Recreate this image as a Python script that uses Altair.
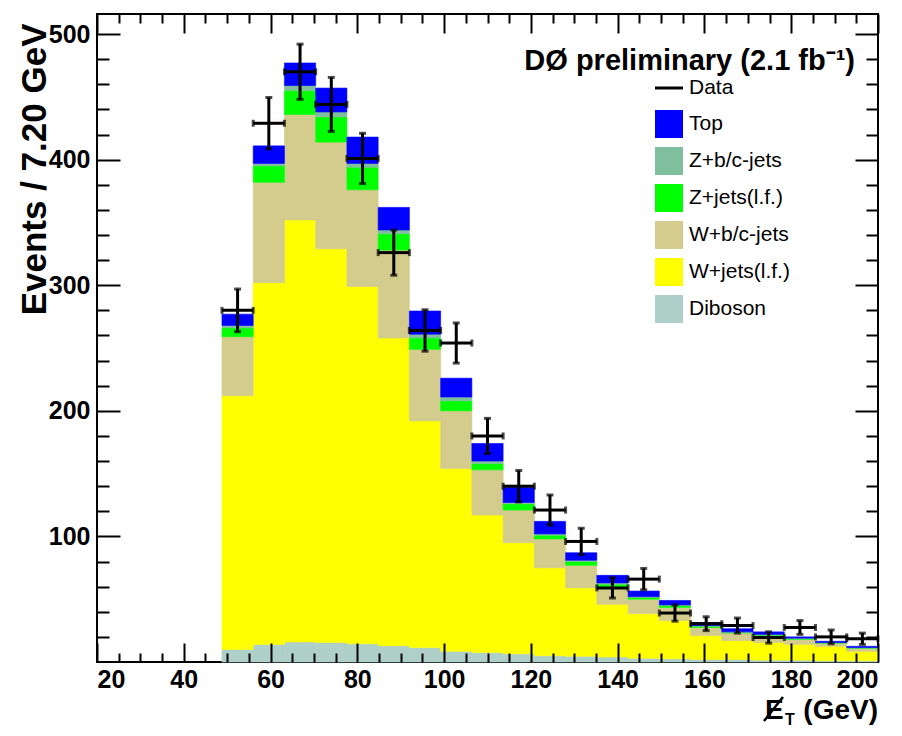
import altair as alt
import pandas as pd

# ---- data ----
bin_lo = [48.8, 56.0, 63.2, 70.4, 77.6, 84.8, 92.0, 99.2, 106.4, 113.6, 120.8,
          128.0, 135.2, 142.4, 149.6, 156.8, 164.0, 171.2, 178.4, 185.6, 192.8]
bin_hi = [56.0, 63.2, 70.4, 77.6, 84.8, 92.0, 99.2, 106.4, 113.6, 120.8, 128.0,
          135.2, 142.4, 149.6, 156.8, 164.0, 171.2, 178.4, 185.6, 192.8, 200.0]

diboson = [10, 14, 16, 15.5, 14.5, 13, 11.5, 8.5, 7.5, 6.5, 5, 4.5, 4, 3, 2.5, 2, 2, 1.5, 1.5, 1, 1]
w_lf = [202, 288, 336, 313.5, 284.5, 245, 180.5, 145.5, 109.5, 88.5, 70, 54.5, 42, 35.5, 30.5, 19, 15, 14, 12.5, 11.5, 7.5]
w_bc = [47, 80, 84, 85, 77, 70, 57, 46, 36, 26, 23, 18, 14, 11.5, 10.5, 6.5, 6, 5.5, 4, 2.5, 2.5]
z_lf = [7, 13, 19, 20, 18, 13, 9, 8, 5, 5, 3, 3, 2, 1.5, 1.5, 1, 0.5, 0.5, 0.5, 0.2, 0.3]
z_bc = [2, 2, 4, 4, 3, 3, 3, 3, 2, 1, 1, 1, 1, 0.5, 0.5, 0.5, 0.5, 0.5, 0.5, 0.3, 0.2]
top = [9, 14, 18, 19, 21, 18, 18.5, 15, 14, 12, 10, 6, 6, 4.5, 3.5, 2.5, 2.5, 2, 1, 1, 1]

data_counts = [280, 429, 470, 444, 401, 326, 264, 254, 180, 140, 121, 96, 59, 66, 39, 30.5, 29, 19.5, 27.5, 20, 18.5]
data_err = [17, 20.5, 22, 21.5, 20, 18, 16.5, 16, 14, 12.5, 12, 10.5, 8, 8.5, 6.5, 5.5, 6, 4.5, 5.5, 5.5, 4.5]

legend_names = ["Top", "Z+b/c-jets", "Z+jets(l.f.)", "W+b/c-jets", "W+jets(l.f.)", "Diboson"]
legend_colors = ["#0000ff", "#80bf9d", "#00ff00", "#d3cc8c", "#ffff00", "#afd0c9"]

x_ticks = list(range(20, 201, 5))
y_ticks = list(range(20, 501, 20))

# ---- tables ----
stack = [("Diboson", diboson), ("W+jets(l.f.)", w_lf), ("W+b/c-jets", w_bc),
         ("Z+jets(l.f.)", z_lf), ("Z+b/c-jets", z_bc), ("Top", top)]
rows = []
for k, (name, vals) in enumerate(stack):
    for lo, hi, v in zip(bin_lo, bin_hi, vals):
        rows.append(dict(lo=lo, hi=hi, value=v, comp=name, ord=k))
mc = pd.DataFrame(rows)

dd = pd.DataFrame(dict(lo=bin_lo, hi=bin_hi, n=data_counts, err=data_err))
dd["mid"] = (dd["lo"] + dd["hi"]) / 2
dd["elo"] = dd["n"] - dd["err"]
dd["ehi"] = dd["n"] + dd["err"]

W, H = 781, 648
FONT = "Liberation Sans"
xscale = alt.Scale(domain=[20, 200], nice=False, zero=False)
yscale = alt.Scale(domain=[0, 516], nice=False, zero=True)
cscale = alt.Scale(domain=legend_names, range=legend_colors)

x_major = {"condition": {"test": "datum.value % 20 === 0", "value": 19}, "value": 9}
y_major = {"condition": {"test": "datum.value % 100 === 0", "value": 23}, "value": 12}
tickcommon = dict(domain=False, grid=False, labels=False, title="", tickColor="black",
                  tickWidth=2, zindex=2)

# axes carrying the labels (no ticks)
x_labels = alt.Axis(orient="bottom", values=x_ticks, title="", ticks=False, domain=False, grid=False,
                    labelExpr="datum.value % 20 === 0 ? datum.label : ''", labelOverlap=False,
                    labelFont=FONT, labelFontSize=25, labelFontWeight="bold",
                    labelColor="black", labelPadding=5)
y_labels = alt.Axis(orient="left", values=y_ticks, title="Events / 7.20 GeV", ticks=False,
                    domain=False, grid=False,
                    labelExpr="datum.value % 100 === 0 ? datum.label : ''", labelOverlap=False,
                    labelFont=FONT, labelFontSize=25, labelFontWeight="bold",
                    labelColor="black", labelPadding=7,
                    titleFont=FONT, titleFontSize=35, titleFontWeight="bold", titleColor="black",
                    titleAngle=270, titleX=-63, titleY=9, titleAlign="right", titleBaseline="middle")
# inward ticks: axes moved to the opposite edge so their ticks point into the frame
x_ticks_bottom = alt.Axis(orient="top", offset=-H, values=x_ticks, tickSize=x_major, **tickcommon)
x_ticks_top = alt.Axis(orient="bottom", offset=-H, values=x_ticks, tickSize=x_major, **tickcommon)
y_ticks_left = alt.Axis(orient="right", offset=-W, values=y_ticks, tickSize=y_major, **tickcommon)
y_ticks_right = alt.Axis(orient="left", offset=-W, values=y_ticks, tickSize=y_major, **tickcommon)

legend = alt.Legend(orient="none", legendX=558, legendY=96, title=None,
                    symbolType="square", symbolSize=784, symbolStrokeWidth=0,
                    labelFont=FONT, labelFontSize=21, labelColor="black",
                    labelOffset=6, rowPadding=9, padding=0, labelLimit=300)

bars = alt.Chart(mc).transform_stack(
    stack="value", groupby=["lo"], as_=["y0", "y1"],
    sort=[alt.SortField("ord", order="ascending")], offset="zero",
).mark_rect(strokeWidth=0.6).encode(
    x=alt.X("lo:Q", scale=xscale, axis=x_labels),
    x2="hi:Q",
    y=alt.Y("y0:Q", scale=yscale, axis=y_labels),
    y2="y1:Q",
    color=alt.Color("comp:N", scale=cscale, legend=legend),
    stroke=alt.Stroke("comp:N", scale=cscale, legend=None),
)

hbar = alt.Chart(dd).mark_rule(color="black", strokeWidth=3).encode(
    x=alt.X("lo:Q", scale=xscale, axis=x_ticks_bottom),
    x2="hi:Q",
    y=alt.Y("n:Q", scale=yscale, axis=y_ticks_left),
)
vbar = alt.Chart(dd).mark_rule(color="black", strokeWidth=3).encode(
    x=alt.X("mid:Q", scale=xscale, axis=x_ticks_top),
    y=alt.Y("elo:Q", scale=yscale, axis=y_ticks_right),
    y2="ehi:Q",
)
vcaps = alt.Chart(dd).transform_fold(["elo", "ehi"], as_=["k", "v"]).mark_tick(
    color="black", orient="horizontal", size=7, thickness=3).encode(
    x=alt.X("mid:Q", scale=xscale, axis=None),
    y=alt.Y("v:Q", scale=yscale, axis=None),
)
hcaps = alt.Chart(dd).transform_fold(["lo", "hi"], as_=["k", "v"]).mark_tick(
    color="black", orient="vertical", size=7, thickness=3).encode(
    x=alt.X("v:Q", scale=xscale, axis=None),
    y=alt.Y("n:Q", scale=yscale, axis=None),
)

def label(txt, x, y, size, align="left", weight="bold", baseline="alphabetic"):
    return alt.Chart(pd.DataFrame({"t": [txt]})).mark_text(
        align=align, baseline=baseline, font=FONT, fontSize=size,
        fontWeight=weight, color="black").encode(
        text="t:N", x=alt.value(x), y=alt.value(y))

# "Data" legend entry (line symbol)
data_key = alt.Chart(pd.DataFrame({"k": ["Data"]})).mark_rule(color="black", strokeWidth=3).encode(
    x=alt.value(558), x2=alt.value(586), y=alt.value(74))
data_txt = label("Data", 592, 74, 21, weight="normal", baseline="middle")

title = label("DØ preliminary (2.1 fb⁻¹)", 758, 56, 29, align="right")
# x-axis title: missing-E_T symbol built from E, a slash and a subscript T
xt_gev = label("(GeV)", 781, 705, 28, align="right")
xt_e = label("E", 668, 705, 28)
xt_slash = alt.Chart(pd.DataFrame({"k": ["slash"]})).mark_rule(color="black", strokeWidth=2.5).encode(
    x=alt.value(667), y=alt.value(707), x2=alt.value(686), y2=alt.value(683))
xt_t = label("T", 688, 711, 16)

chart = alt.layer(bars, hbar, vbar, vcaps, hcaps, data_key, data_txt, title,
                  xt_gev, xt_e, xt_slash, xt_t).resolve_axis(
    x="independent", y="independent"
).properties(
    width=W, height=H,
    autosize=alt.AutoSizeParams(type="none"),
    padding={"left": 89, "top": 6, "right": 14, "bottom": 66},
    background="white",
).configure_view(stroke="black", strokeWidth=2)

chart.save("out.html", embed_options={"renderer": "svg", "actions": False})
